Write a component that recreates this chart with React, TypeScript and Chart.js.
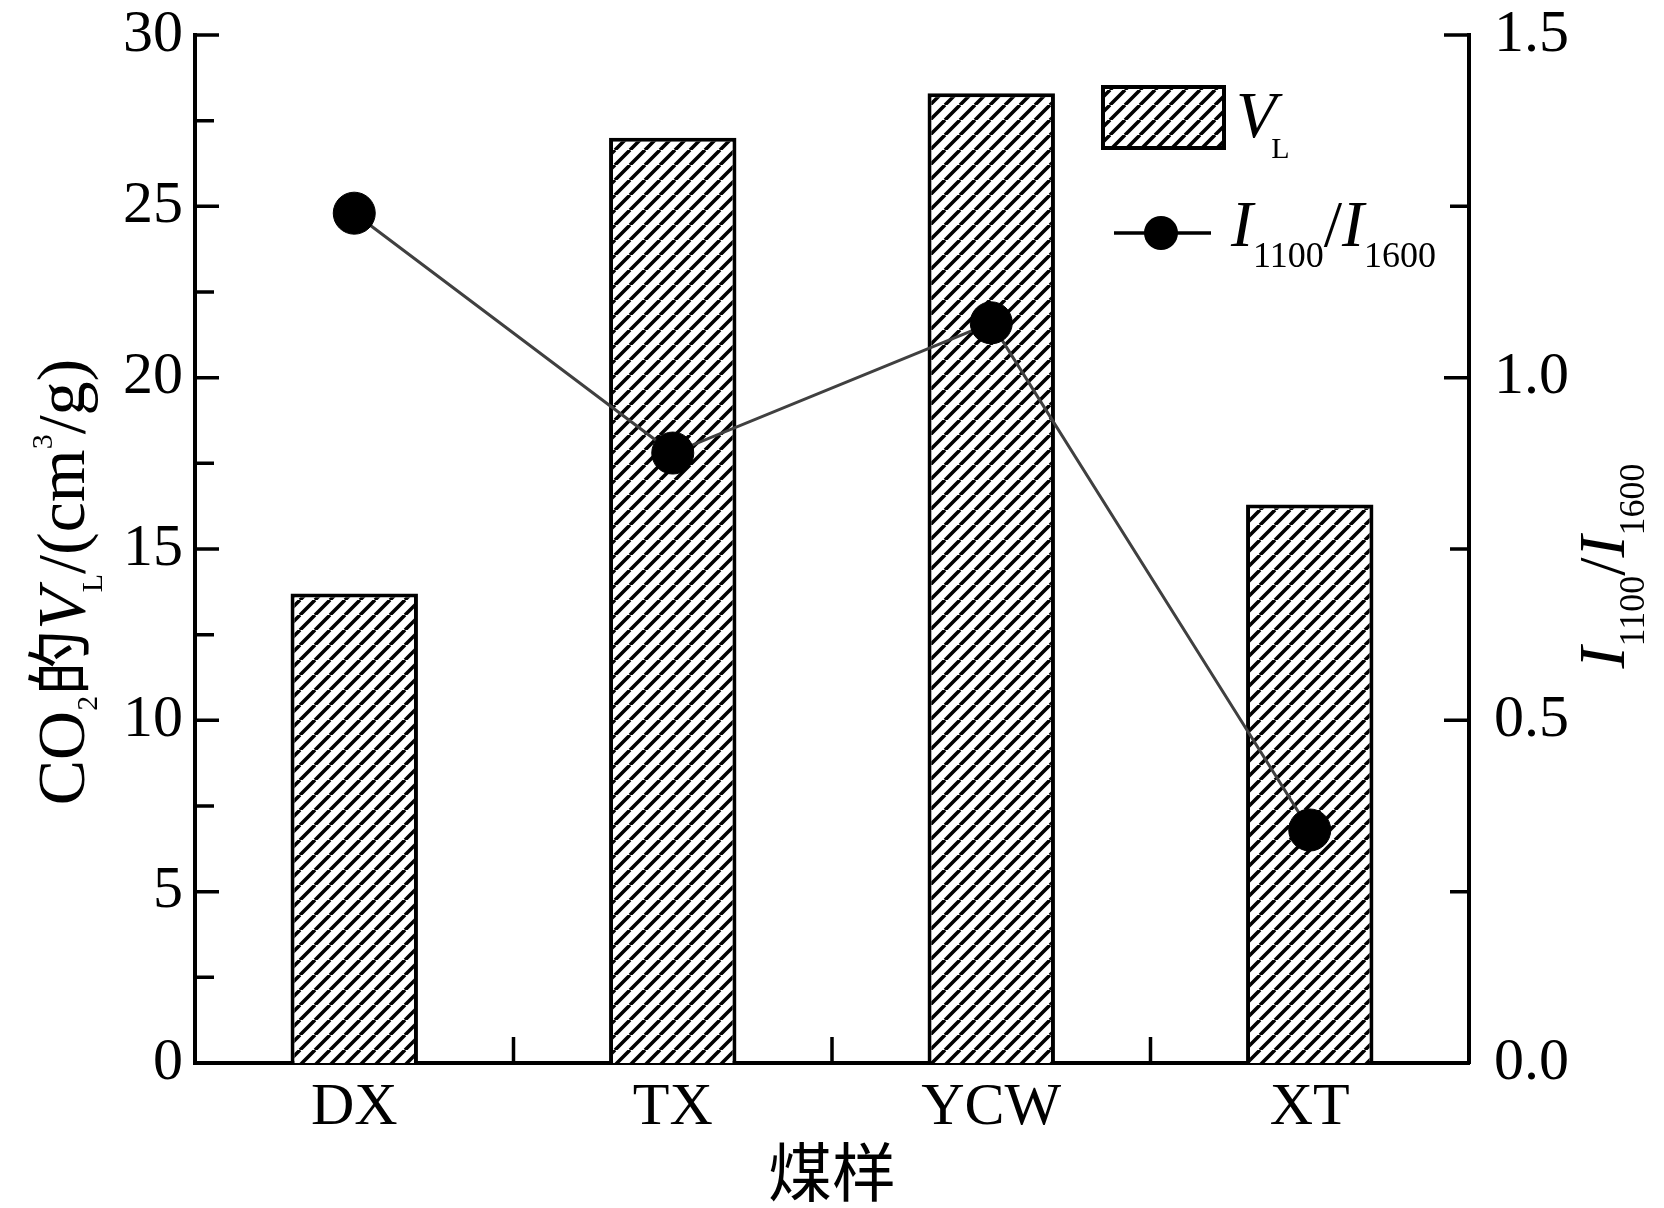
import { useEffect, useRef } from "react";
import { Chart, registerables } from "chart.js";

Chart.register(...registerables);

const categories = ["DX", "TX", "YCW", "XT"];
const vlValues = [13.7, 27.0, 28.3, 16.3];
const ratioValues = [1.24, 0.89, 1.08, 0.34];
const leftTickValues = [0, 5, 10, 15, 20, 25, 30];
const rightTickValues = [0, 0.5, 1.0, 1.5];

const SERIF = "'Liberation Serif', 'Times New Roman', serif";
const CJK = "'Noto Sans CJK SC', sans-serif";

type Seg = { t: string; size: number; italic?: boolean; dy?: number; dx?: number; cjk?: boolean };

const fontOf = (s: Seg) => `${s.italic ? "italic " : ""}${s.size}px ${s.cjk ? CJK : SERIF}`;

function drawRich(ctx: CanvasRenderingContext2D, segs: Seg[], x: number, y: number, center: boolean, rotate: boolean) {
  ctx.save();
  ctx.translate(x, y);
  if (rotate) ctx.rotate(-Math.PI / 2);
  ctx.textAlign = "left";
  ctx.textBaseline = "alphabetic";
  ctx.fillStyle = "#000";
  const widths = segs.map((s) => {
    ctx.font = fontOf(s);
    return ctx.measureText(s.t).width + (s.dx || 0);
  });
  const total = widths.reduce((a, b) => a + b, 0);
  let cx = center ? -total / 2 : 0;
  segs.forEach((s, i) => {
    ctx.font = fontOf(s);
    ctx.fillText(s.t, cx + (s.dx || 0), s.dy || 0);
    cx += widths[i];
  });
  ctx.restore();
}

function makeHatch(): CanvasPattern | string {
  const s = 15;
  const c = document.createElement("canvas");
  c.width = s;
  c.height = s;
  const g = c.getContext("2d");
  if (!g) return "#fff";
  g.fillStyle = "#fff";
  g.fillRect(0, 0, s, s);
  g.strokeStyle = "#000";
  g.lineWidth = 3.6;
  g.beginPath();
  for (let k = -1; k <= 1; k++) {
    g.moveTo(k * s, s);
    g.lineTo(k * s + s, 0);
  }
  g.stroke();
  return g.createPattern(c, "repeat") || "#fff";
}

export default function App() {
  const canvasRef = useRef<HTMLCanvasElement | null>(null);
  const chartRef = useRef<Chart | null>(null);

  useEffect(() => {
    document.body.style.margin = "0";
    if (!canvasRef.current) return;
    if (chartRef.current) chartRef.current.destroy();
    const ctx = canvasRef.current.getContext("2d");
    if (!ctx) return;

    const hatch = makeHatch();

    const extras = {
      id: "extras",
      afterDraw(chart: Chart) {
        const c = chart.ctx;
        const { left, right, bottom } = chart.chartArea;
        const x = chart.scales.x;
        const y = chart.scales.y;
        const y1 = chart.scales.y1;
        c.save();
        c.strokeStyle = "#000";
        c.lineWidth = 3.5;
        c.beginPath();
        // inward ticks on the left axis
        leftTickValues.forEach((v, i) => {
          const p = y.getPixelForValue(v);
          c.moveTo(left, p);
          c.lineTo(left + 24, p);
          if (i < leftTickValues.length - 1) {
            const m = y.getPixelForValue((v + leftTickValues[i + 1]) / 2);
            c.moveTo(left, m);
            c.lineTo(left + 19, m);
          }
        });
        // inward ticks on the right axis
        rightTickValues.forEach((v, i) => {
          const p = y1.getPixelForValue(v);
          c.moveTo(right, p);
          c.lineTo(right - 25, p);
          if (i < rightTickValues.length - 1) {
            const m = y1.getPixelForValue((v + rightTickValues[i + 1]) / 2);
            c.moveTo(right, m);
            c.lineTo(right - 19, m);
          }
        });
        // ticks between categories
        for (let i = 1; i < categories.length; i++) {
          const p = (x.getPixelForValue(i - 1) + x.getPixelForValue(i)) / 2;
          c.moveTo(p, bottom);
          c.lineTo(p, bottom - 26);
        }
        c.stroke();

        // legend
        c.fillStyle = hatch as any;
        c.fillRect(1103, 87, 121, 61);
        c.lineWidth = 4;
        c.strokeRect(1103, 87, 121, 61);
        drawRich(c, [
          { t: "V", size: 66, italic: true },
          { t: "L", size: 30, dy: 21, dx: -5 },
        ], 1236, 137, false, false);

        c.lineWidth = 3.5;
        c.beginPath();
        c.moveTo(1114, 233);
        c.lineTo(1211, 233);
        c.stroke();
        c.fillStyle = "#000";
        c.beginPath();
        c.arc(1161, 233, 17, 0, Math.PI * 2);
        c.fill();
        drawRich(c, [
          { t: "I", size: 66, italic: true },
          { t: "1100", size: 36, dy: 21 },
          { t: "/", size: 66 },
          { t: "I", size: 66, italic: true },
          { t: "1600", size: 36, dy: 21 },
        ], 1231, 246, false, false);

        // axis titles
        drawRich(c, [
          { t: "CO", size: 68 },
          { t: "2", size: 30, dy: 13 },
          { t: "的", size: 66, cjk: true },
          { t: "V", size: 68, italic: true },
          { t: "L", size: 30, dy: 18, dx: -4 },
          { t: "/(cm", size: 68 },
          { t: "3", size: 30, dy: -32 },
          { t: "/g)", size: 68 },
        ], 84, 582, true, true);

        drawRich(c, [
          { t: "I", size: 66, italic: true },
          { t: "1100", size: 36, dy: 20 },
          { t: "/", size: 66 },
          { t: "I", size: 66, italic: true },
          { t: "1600", size: 36, dy: 20 },
        ], 1624, 566, true, true);

        c.font = `64px ${CJK}`;
        c.fillStyle = "#000";
        c.textAlign = "center";
        c.textBaseline = "middle";
        c.fillText("煤样", (left + right) / 2, 1172);
        c.restore();
      },
    };

    const tickFont = { family: SERIF, size: 60, lineHeight: 1 };
    const noPad = (scale: any) => {
      scale.paddingTop = 0;
      scale.paddingBottom = 0;
      scale.paddingLeft = 0;
      scale.paddingRight = 0;
    };

    chartRef.current = new Chart(ctx, {
      type: "bar",
      data: {
        labels: categories,
        datasets: [
          {
            type: "line",
            label: "I1100/I1600",
            data: ratioValues,
            yAxisID: "y1",
            borderColor: "#404040",
            borderWidth: 3,
            pointRadius: 21,
            pointBackgroundColor: "#000",
            pointBorderColor: "#000",
            pointBorderWidth: 1,
            tension: 0,
            order: 0,
          },
          {
            type: "bar",
            label: "VL",
            data: vlValues,
            yAxisID: "y",
            backgroundColor: hatch as any,
            borderColor: "#000",
            borderWidth: 4,
            categoryPercentage: 1,
            barPercentage: 0.4,
            order: 1,
          },
        ],
      },
      options: {
        responsive: false,
        animation: false,
        layout: { padding: { top: 35, left: 0, right: 0, bottom: 0 } },
        plugins: {
          legend: { display: false },
          tooltip: { enabled: false },
        },
        scales: {
          x: {
            type: "category",
            offset: true,
            grid: { display: false, drawTicks: false },
            border: { display: true, color: "#000", width: 4 },
            ticks: { font: tickFont, color: "#000", padding: 15 },
            afterFit: (scale: any) => {
              scale.height = 1208 - 1063;
              noPad(scale);
            },
          },
          y: {
            type: "linear",
            position: "left",
            min: 0,
            max: 30,
            grid: { display: false, drawTicks: false },
            border: { display: true, color: "#000", width: 4 },
            ticks: { font: tickFont, color: "#000", padding: 12 },
            afterBuildTicks: (scale: any) => {
              scale.ticks = leftTickValues.map((v) => ({ value: v }));
            },
            afterFit: (scale: any) => {
              scale.width = 195;
              noPad(scale);
            },
          },
          y1: {
            type: "linear",
            position: "right",
            min: 0,
            max: 1.5,
            grid: { display: false, drawTicks: false },
            border: { display: true, color: "#000", width: 4 },
            ticks: {
              font: tickFont,
              color: "#000",
              padding: 25,
              callback: (v: any) => Number(v).toFixed(1),
            },
            afterBuildTicks: (scale: any) => {
              scale.ticks = rightTickValues.map((v) => ({ value: v }));
            },
            afterFit: (scale: any) => {
              scale.width = 1664 - 1469;
              noPad(scale);
            },
          },
        },
      },
      plugins: [extras],
    });

    return () => {
      if (chartRef.current) {
        chartRef.current.destroy();
        chartRef.current = null;
      }
    };
  }, []);

  return (
    <div style={{ width: 1664, height: 1208, background: "#fff" }}>
      <canvas ref={canvasRef} width={1664} height={1208} />
    </div>
  );
}
